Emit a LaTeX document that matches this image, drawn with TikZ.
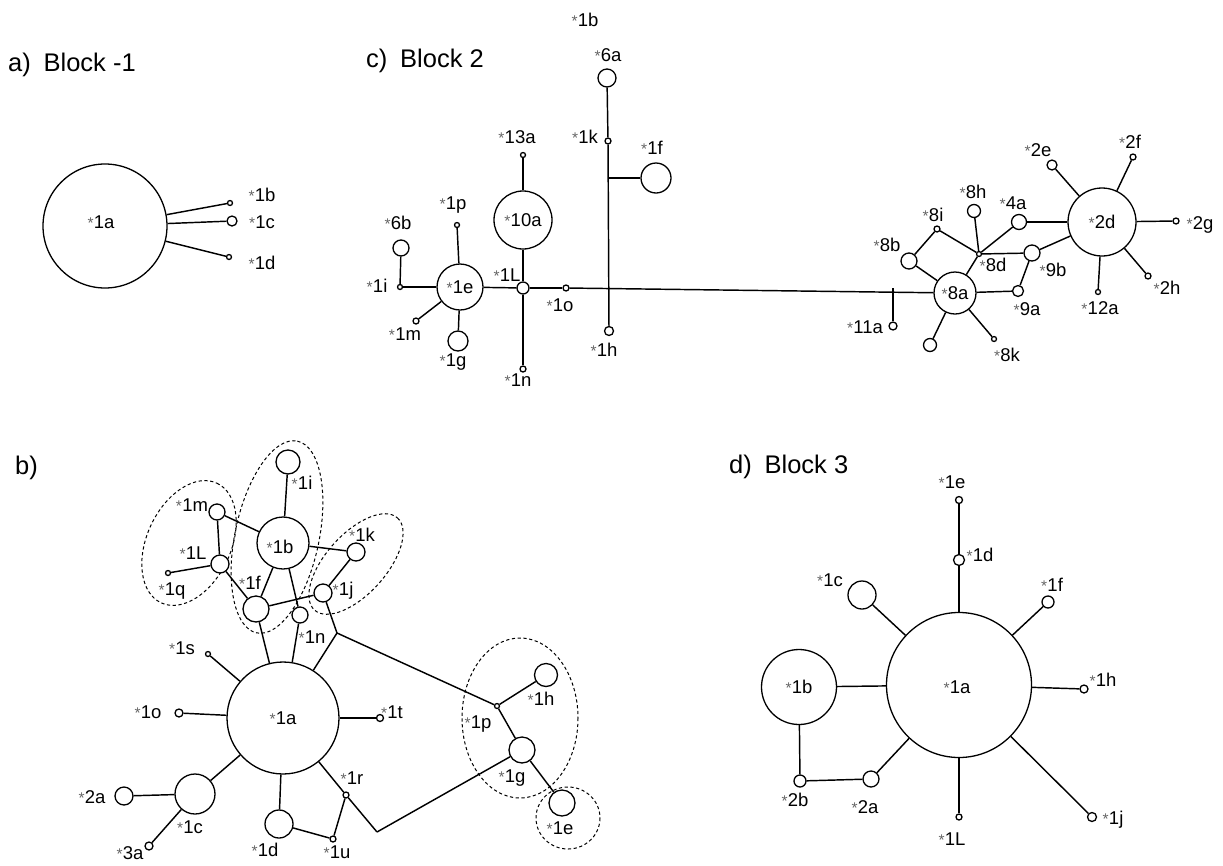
\documentclass[tikz,border=0pt]{standalone}
\usepackage{fontspec}
\setmainfont{Liberation Sans}
\newcommand\st{{\fontsize{15.5}{15}\selectfont\color{black!60}*}\kern0.3pt}
\tikzset{
  ed/.style={line width=1.45pt},
  nd/.style={circle, draw, line width=1.3pt, fill=white, inner sep=0pt, minimum size=#1},
  tx/.style={font=\fontsize{18.5}{20}\selectfont, inner sep=0pt, text height=13pt, text depth=0pt, anchor=center},
  ttl/.style={font=\fontsize{25.5}{30}\selectfont, inner sep=0pt, anchor=base west},
  grp/.style={line width=1pt, dash pattern=on 3.2pt off 2.6pt}
}
\begin{document}
\begin{tikzpicture}[x=1pt,y=-1pt]
\useasboundingbox (0,0) rectangle (1223,865);
% ===== titles
\node[ttl] (ta) at (8,71) {a)\hspace{0.5em}Block -1};
\node[ttl] (tc) at (366,67) {c)\hspace{0.5em}Block 2};
\node[ttl] (tb) at (15,474) {b)};
\node[ttl] (td) at (729,473) {d)\hspace{0.5em}Block 3};
% ===== panel a
\node[nd=124pt] (a1a) at (105,226) {};
\node[tx] at (101,222) {\st1a};
\node[nd=5pt] (a1b) at (230,203) {};
\node[nd=10pt] (a1c) at (232,221) {};
\node[nd=5pt] (a1d) at (229,257) {};
\draw[ed] (a1a) -- (a1b);
\draw[ed] (a1a) -- (a1c);
\draw[ed] (a1a) -- (a1d);
\node[tx] (la1b) at (262,195) {\st1b};
\node[tx] (la1c) at (262,222) {\st1c};
\node[tx] (la1d) at (262,263) {\st1d};
% ===== panel c
\node[nd=18pt] (c6a) at (607,78) {};
\node[nd=6pt] (c1k) at (608,141) {};
\node[nd=9pt] (c1h) at (609,331) {};
\node[nd=30pt] (c1f) at (656,178) {};
\coordinate (cj1f) at (608,178);
\node[nd=5pt] (c13a) at (523,155) {};
\node[nd=58pt] (c10a) at (523,220) {};
\node[nd=12pt] (c1L) at (523,288) {};
\node[nd=6pt] (c1n) at (523,369) {};
\node[nd=46pt] (c1e) at (460,287) {};
\node[nd=5pt] (c1p) at (457,225) {};
\node[nd=16pt] (c6b) at (401,248) {};
\node[nd=5pt] (c1i) at (400,287) {};
\node[nd=6pt] (c1m) at (416,321) {};
\node[nd=20pt] (c1g) at (458,341) {};
\node[nd=6pt] (c1o) at (566,288) {};
\coordinate (cj11a) at (893,288);
\node[nd=8pt] (c11a) at (893,326) {};
\node[nd=42pt] (c8a) at (955,293) {};
\node[nd=16pt] (c8b) at (909,261) {};
\node[nd=6pt] (c8i) at (937,229) {};
\node[nd=13pt] (c8h) at (974,211) {};
\node[nd=5pt] (c8d) at (979,254) {};
\node[nd=15pt] (c4a) at (1019,222) {};
\node[nd=16pt] (c9b) at (1032,253) {};
\node[nd=11pt] (c9a) at (1018,291) {};
\node[nd=68pt] (c2d) at (1102,222) {};
\node[nd=10pt] (c2e) at (1052,165) {};
\node[nd=6pt] (c2f) at (1133,157) {};
\node[nd=6pt] (c2g) at (1176,221) {};
\node[nd=6pt] (c2h) at (1148,276) {};
\node[nd=5pt] (c12a) at (1098,292) {};
\node[nd=13pt] (cx) at (930,345) {};
\node[nd=5pt] (c8k) at (994,339) {};
\draw[ed] (c6a) -- (c1k);
\draw[ed] (c1k) -- (c1h);
\draw[ed] (cj1f) -- (c1f);
\draw[ed] (c13a) -- (c10a);
\draw[ed] (c10a) -- (c1L);
\draw[ed] (c1L) -- (c1n);
\draw[ed] (c1e) -- (c1L);
\draw[ed] (c1L) -- (c1o);
\draw[ed] (c1o) -- (c8a);
\draw[ed] (cj11a) -- (c11a);
\draw[ed] (c1e) -- (c1p);
\draw[ed] (c1e) -- (c1i);
\draw[ed] (c1i) -- (c6b);
\draw[ed] (c1e) -- (c1m);
\draw[ed] (c1e) -- (c1g);
\draw[ed] (c8a) -- (c8b);
\draw[ed] (c8b) -- (c8i);
\draw[ed] (c8i) -- (c8d);
\draw[ed] (c8d) -- (c8h);
\draw[ed] (c8d) -- (c4a);
\draw[ed] (c4a) -- (c2d);
\draw[ed] (c8d) -- (c9b);
\draw[ed] (c9b) -- (c2d);
\draw[ed] (c9b) -- (c9a);
\draw[ed] (c9a) -- (c8a);
\draw[ed] (c8a) -- (c8d);
\draw[ed] (c8a) -- (cx);
\draw[ed] (c8a) -- (c8k);
\draw[ed] (c2d) -- (c2e);
\draw[ed] (c2d) -- (c2f);
\draw[ed] (c2d) -- (c2g);
\draw[ed] (c2d) -- (c2h);
\draw[ed] (c2d) -- (c12a);
\node[tx] (lc1b) at (585,20) {\st1b};
\node[tx] (lc6a) at (608,55) {\st6a};
\node[tx] (lc1k) at (585,137) {\st1k};
\node[tx] (lc1h) at (604,350) {\st1h};
\node[tx] (lc1f) at (652,148) {\st1f};
\node[tx] (lc13a) at (517,137) {\st13a};
\node[tx] (lc10a) at (523,220) {\st10a};
\node[tx] (lc1L) at (507,275) {\st1L};
\node[tx] (lc1n) at (518,380) {\st1n};
\node[tx] (lc1e) at (460,287) {\st1e};
\node[tx] (lc1p) at (453,203) {\st1p};
\node[tx] (lc6b) at (398,223) {\st6b};
\node[tx] (lc1i) at (377,286) {\st1i};
\node[tx] (lc1m) at (405,334) {\st1m};
\node[tx] (lc1g) at (453,360) {\st1g};
\node[tx] (lc1o) at (560,305) {\st1o};
\node[tx] (lc11a) at (865,327) {\st11a};
\node[tx] (lc8a) at (955,293) {\st8a};
\node[tx] (lc8b) at (887,245) {\st8b};
\node[tx] (lc8i) at (933,215) {\st8i};
\node[tx] (lc8h) at (973,192) {\st8h};
\node[tx] (lc8d) at (993,265) {\st8d};
\node[tx] (lc4a) at (1013,203) {\st4a};
\node[tx] (lc9b) at (1053,270) {\st9b};
\node[tx] (lc9a) at (1027,309) {\st9a};
\node[tx] (lc2d) at (1102,222) {\st2d};
\node[tx] (lc2e) at (1038,150) {\st2e};
\node[tx] (lc2f) at (1130,142) {\st2f};
\node[tx] (lc2g) at (1200,223) {\st2g};
\node[tx] (lc2h) at (1167,288) {\st2h};
\node[tx] (lc12a) at (1100,308) {\st12a};
\node[tx] (lc8k) at (1007,355) {\st8k};
% ===== panel b
\draw[grp, rotate around={65:(189,543)}] (189,543) ellipse (66 and 42);
\draw[grp, rotate around={78:(277,537)}] (277,537) ellipse (98 and 42);
\draw[grp, rotate around={48:(356,564)}] (356,564) ellipse (62 and 30);
\draw[grp] (520,718) ellipse (58 and 80);
\draw[grp] (568,818) ellipse (32 and 31);
\node[nd=52pt] (b1b) at (283,543) {};
\node[nd=24pt] (b1i) at (288,462) {};
\node[nd=16pt] (b1m) at (217,512) {};
\node[nd=18pt] (b1L) at (220,564) {};
\node[nd=5pt] (b1q) at (168,573) {};
\node[nd=26pt] (b1f) at (256,609) {};
\node[nd=18pt] (b1k) at (356,552) {};
\node[nd=18pt] (b1j) at (323,593) {};
\node[nd=16pt] (b1n) at (300,615) {};
\coordinate (bj) at (337,633);
\node[nd=5pt] (b1s) at (208,654) {};
\node[nd=112pt] (b1a) at (283,718) {};
\node[nd=8pt] (b1o) at (179,713) {};
\node[nd=7pt] (b1t) at (380,718) {};
\node[nd=40pt] (b1c) at (195,794) {};
\node[nd=18pt] (b2a) at (124,796) {};
\node[nd=8pt] (b3a) at (149,846) {};
\node[nd=28pt] (b1d) at (279,824) {};
\node[nd=6pt] (b1u) at (333,839) {};
\node[nd=6pt] (b1r) at (346,795) {};
\coordinate (bk) at (377,832);
\node[nd=5pt] (b1p) at (497,706) {};
\node[nd=23pt] (b1h) at (546,675) {};
\node[nd=26pt] (b1g) at (522,750) {};
\node[nd=26pt] (b1e) at (562,803) {};
\draw[ed] (b1i) -- (b1b);
\draw[ed] (b1m) -- (b1b);
\draw[ed] (b1m) -- (b1L);
\draw[ed] (b1L) -- (b1q);
\draw[ed] (b1L) -- (b1f);
\draw[ed] (b1b) -- (b1f);
\draw[ed] (b1b) -- (b1n);
\draw[ed] (b1b) -- (b1k);
\draw[ed] (b1k) -- (b1j);
\draw[ed] (b1f) -- (b1j);
\draw[ed] (b1f) -- (b1a);
\draw[ed] (b1n) -- (b1a);
\draw[ed] (b1j) -- (bj);
\draw[ed] (bj) -- (b1a);
\draw[ed] (bj) -- (b1p);
\draw[ed] (b1s) -- (b1a);
\draw[ed] (b1o) -- (b1a);
\draw[ed] (b1t) -- (b1a);
\draw[ed] (b1a) -- (b1c);
\draw[ed] (b1c) -- (b2a);
\draw[ed] (b1c) -- (b3a);
\draw[ed] (b1a) -- (b1d);
\draw[ed] (b1d) -- (b1u);
\draw[ed] (b1u) -- (b1r);
\draw[ed] (b1r) -- (b1a);
\draw[ed] (b1r) -- (bk);
\draw[ed] (bk) -- (b1g);
\draw[ed] (b1p) -- (b1h);
\draw[ed] (b1p) -- (b1g);
\draw[ed] (b1g) -- (b1e);
\node[tx] (lb1b) at (280,547) {\st1b};
\node[tx] (lb1i) at (302,483) {\st1i};
\node[tx] (lb1m) at (192,505) {\st1m};
\node[tx] (lb1L) at (193,553) {\st1L};
\node[tx] (lb1q) at (172,589) {\st1q};
\node[tx] (lb1f) at (250,583) {\st1f};
\node[tx] (lb1k) at (362,535) {\st1k};
\node[tx] (lb1j) at (343,589) {\st1j};
\node[tx] (lb1n) at (312,637) {\st1n};
\node[tx] (lb1s) at (182,648) {\st1s};
\node[tx] (lb1a) at (283,718) {\st1a};
\node[tx] (lb1o) at (148,712) {\st1o};
\node[tx] (lb1t) at (392,712) {\st1t};
\node[tx] (lb1c) at (190,827) {\st1c};
\node[tx] (lb2a) at (92,797) {\st2a};
\node[tx] (lb3a) at (130,853) {\st3a};
\node[tx] (lb1d) at (265,850) {\st1d};
\node[tx] (lb1u) at (337,852) {\st1u};
\node[tx] (lb1r) at (352,778) {\st1r};
\node[tx] (lb1p) at (478,722) {\st1p};
\node[tx] (lb1h) at (541,699) {\st1h};
\node[tx] (lb1g) at (512,776) {\st1g};
\node[tx] (lb1e) at (560,828) {\st1e};
% ===== panel d
\node[nd=145pt] (d1a) at (959,685) {};
\node[nd=7pt] (d1e) at (959,500) {};
\node[nd=11pt] (d1d) at (959,560) {};
\node[nd=28pt] (d1c) at (862,595) {};
\node[nd=12pt] (d1f) at (1048,602) {};
\node[nd=8pt] (d1h) at (1084,689) {};
\node[nd=9pt] (d1j) at (1092,817) {};
\node[nd=6pt] (d1L) at (959,817) {};
\node[nd=75pt] (d1b) at (799,687) {};
\node[nd=12pt] (d2b) at (800,781) {};
\node[nd=16pt] (d2a) at (871,779) {};
\draw[ed] (d1e) -- (d1d);
\draw[ed] (d1d) -- (d1a);
\draw[ed] (d1c) -- (d1a);
\draw[ed] (d1f) -- (d1a);
\draw[ed] (d1h) -- (d1a);
\draw[ed] (d1j) -- (d1a);
\draw[ed] (d1L) -- (d1a);
\draw[ed] (d1b) -- (d1a);
\draw[ed] (d1b) -- (d2b);
\draw[ed] (d2b) -- (d2a);
\draw[ed] (d2a) -- (d1a);
\node[tx] (ld1a) at (957,687) {\st1a};
\node[tx] (ld1e) at (952,482) {\st1e};
\node[tx] (ld1d) at (980,555) {\st1d};
\node[tx] (ld1c) at (830,580) {\st1c};
\node[tx] (ld1f) at (1052,585) {\st1f};
\node[tx] (ld1h) at (1103,680) {\st1h};
\node[tx] (ld1j) at (1113,818) {\st1j};
\node[tx] (ld1L) at (952,839) {\st1L};
\node[tx] (ld1b) at (799,687) {\st1b};
\node[tx] (ld2b) at (795,800) {\st2b};
\node[tx] (ld2a) at (865,807) {\st2a};
\end{tikzpicture}
\end{document}
